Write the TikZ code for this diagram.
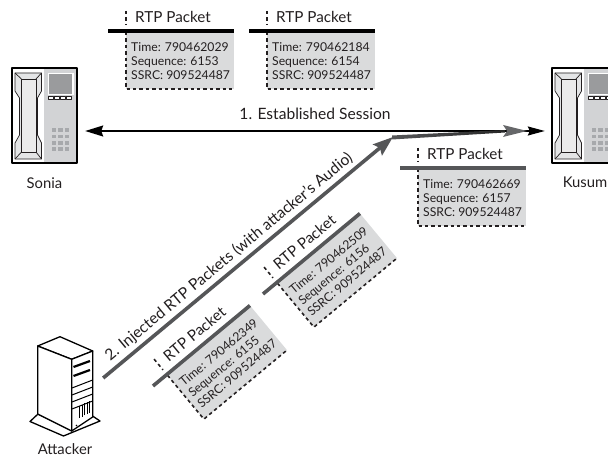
\documentclass[tikz,border=0pt]{standalone}
\usepackage{fontspec}
\setmainfont{Lato}
\usetikzlibrary{arrows.meta}
\definecolor{pktgray}{HTML}{DADBDC}
\definecolor{barD}{HTML}{555658}
\definecolor{ink}{HTML}{231F20}
\definecolor{panelgray}{HTML}{D2D3D5}
\definecolor{screengray}{HTML}{9A9B9D}
\definecolor{keygray}{HTML}{A7A9AC}
\tikzset{
  pkttitle/.style={anchor=base west,inner sep=0pt,font=\fontsize{15.2}{17}\selectfont,text=ink},
  pktline/.style={anchor=base west,inner sep=0pt,font=\fontsize{12.2}{14}\selectfont,text=ink},
  pktedge/.style={draw=ink,line width=1.6pt,dash pattern=on 3.4pt off 3pt},
  lbl/.style={inner sep=0pt,font=\fontsize{15.6}{18}\selectfont,text=ink},
  devname/.style={inner sep=0pt,font=\fontsize{14.8}{17}\selectfont,text=ink},
  outline/.style={draw=black,line width=1.3pt,line join=round},
  thinline/.style={draw=ink,line width=.7pt,line join=round},
  phonebox/.style={minimum width=65pt,minimum height=95pt,inner sep=0pt,anchor=center}
}
% packet: name, shift, angle, bar colour, time, sequence
\newcommand{\rtppkt}[6]{%
\begin{scope}[shift={#2},rotate=#3,transform shape]
  \fill[pktgray] (18,0) rectangle (126,58);
  \draw[pktedge] (18,-20) -- (18,-6);
  \draw[pktedge] (18,1) -- (18,58) -- (126,58);
  \draw[#4,line width=3.6pt] (0,0) -- (126,0);
  \node[pkttitle] (#1title) at (27,-8) {RTP Packet};
  \node[pktline] (#1a) at (23,20.5) {Time: #5};
  \node[pktline] (#1b) at (23,34.5) {Sequence: #6};
  \node[pktline] (#1c) at (23,48.5) {SSRC: 909524487};
\end{scope}}
\newcommand{\phonedraw}[1]{%
\begin{scope}[shift={#1}]
  \fill[white] (0,0) rectangle (65,95);
  \fill[panelgray] (32,1) rectangle (64,94);
  \fill[white] (35.5,5) rectangle (61.5,27);
  \fill[screengray] (37,6.5) rectangle (60,26);
  \foreach \i in {0,1,2,3} \draw[thinline,fill=white] (36.5+\i*6,28.5) rectangle ++(5,3);
  \foreach \i in {0,1,2} \foreach \j in {0,1,2,3}
    \fill[keygray] (40+\i*6.4,60.5+\j*6.2) rectangle ++(4.2,3.8);
  \draw[thinline,fill=panelgray!60] (3,5) -- (29.5,5) -- (29.5,23) -- (25.5,30) -- (25.5,67) -- (29.5,75) -- (29.5,91) -- (3,91) -- (3,75) -- (7.5,67) -- (7.5,30) -- (3,23) -- cycle;
  \draw[thinline,fill=white!92!black] (9.5,11) rectangle (24,84);
  \draw[thinline] (3,5) -- (9.5,11) (29.5,5) -- (24,11) (3,91) -- (9.5,84) (29.5,91) -- (24,84);
  \draw[outline] (0,0) rectangle (65,95);
\end{scope}}
\begin{document}
\begin{tikzpicture}[x=1pt,y=-1pt]
\useasboundingbox (0,0) rectangle (608,457);
\clip (0,0) rectangle (608,457);
\fill[white] (0,0) rectangle (608,457);

% devices
\phonedraw{(12,68)}
\phonedraw{(552,68)}
\node[phonebox] (sonia) at (44.5,115.5) {};
\node[phonebox] (kusum) at (584.5,115.5) {};
\node[devname] (soniaName) at (44.5,183) {Sonia};
\node[devname] (kusumName) at (585,182) {Kusum};

% attacker tower
\begin{scope}
  \draw[outline,fill=white] (30,421.5) -- (38,414) -- (72,430) -- (92.5,416) -- (100,421) -- (63.5,436) -- cycle;
  \draw[outline,fill=white] (37.7,346) -- (60,336.7) -- (92.7,351) -- (71.7,359.3) -- cycle;
  \draw[outline,fill=white] (37.7,346) -- (71.7,359.3) -- (71.7,431) -- (37.7,414) -- cycle;
  \draw[outline,fill=white] (71.7,359.3) -- (92.7,351) -- (92.7,417) -- (71.7,431) -- cycle;
  \foreach \y in {364,373} \draw[black,line width=2.2pt] (73.5,\y+3) -- (90,\y-3);
  \foreach \y in {384,391,398,405} \draw[black,line width=1pt] (72,\y+4) -- (92.7,\y-4);
  \foreach \i in {0,1,2,3,4} \draw[black,line width=1.1pt] (79.5+\i*2.6,418-\i*1.3) -- (79.5+\i*2.6,406-\i*1.3);
  \fill[black] (76.5,425.5) circle (.8pt);
\end{scope}
\node[minimum width=70pt,minimum height=100pt,inner sep=0pt] (attacker) at (65,386) {};
\node[devname] (attackerName) at (65,449.5) {Attacker};

% packets
\rtppkt{pa}{(108,31)}{0}{black}{790462029}{6153}
\rtppkt{pb}{(249,31)}{0}{black}{790462184}{6154}
\rtppkt{pe}{(400,168)}{0}{barD}{790462669}{6157}
\rtppkt{pc}{(153,386)}{39.7}{barD}{790462349}{6155}
\rtppkt{pd}{(263,294)}{39.7}{barD}{790462509}{6156}

% session arrow
\draw[black,line width=1.4pt,{Stealth[length=18pt,width=11pt,inset=2pt]}-{Stealth[length=17pt,width=9pt,inset=2pt]}]
  ([xshift=8pt,yshift=-15.5pt]sonia.east) -- ([xshift=-7pt,yshift=-15.5pt]kusum.west);
\node[lbl] (established) at (315,114) {1. Established Session};

% injected stream
\coordinate (bend) at (393,137);
\coordinate (tail) at ([xshift=3pt,yshift=8pt]attacker.east);
\draw[barD,line width=3.6pt,-{Stealth[length=20pt,width=14pt,inset=3pt]}] (tail) -- (bend);
\shade[left color=barD,right color=black!85] (392,135.5) -- (505,130) -- (505,132.5) -- (392,139.5) -- cycle;
\fill[barD!90] (503,125) -- (527,131) -- (503,137) -- (507,131) -- cycle;
\node[lbl,rotate=39.7] (injected) at (229,257) {2. Injected RTP Packets (with attacker's Audio)};
\end{tikzpicture}
\end{document}
